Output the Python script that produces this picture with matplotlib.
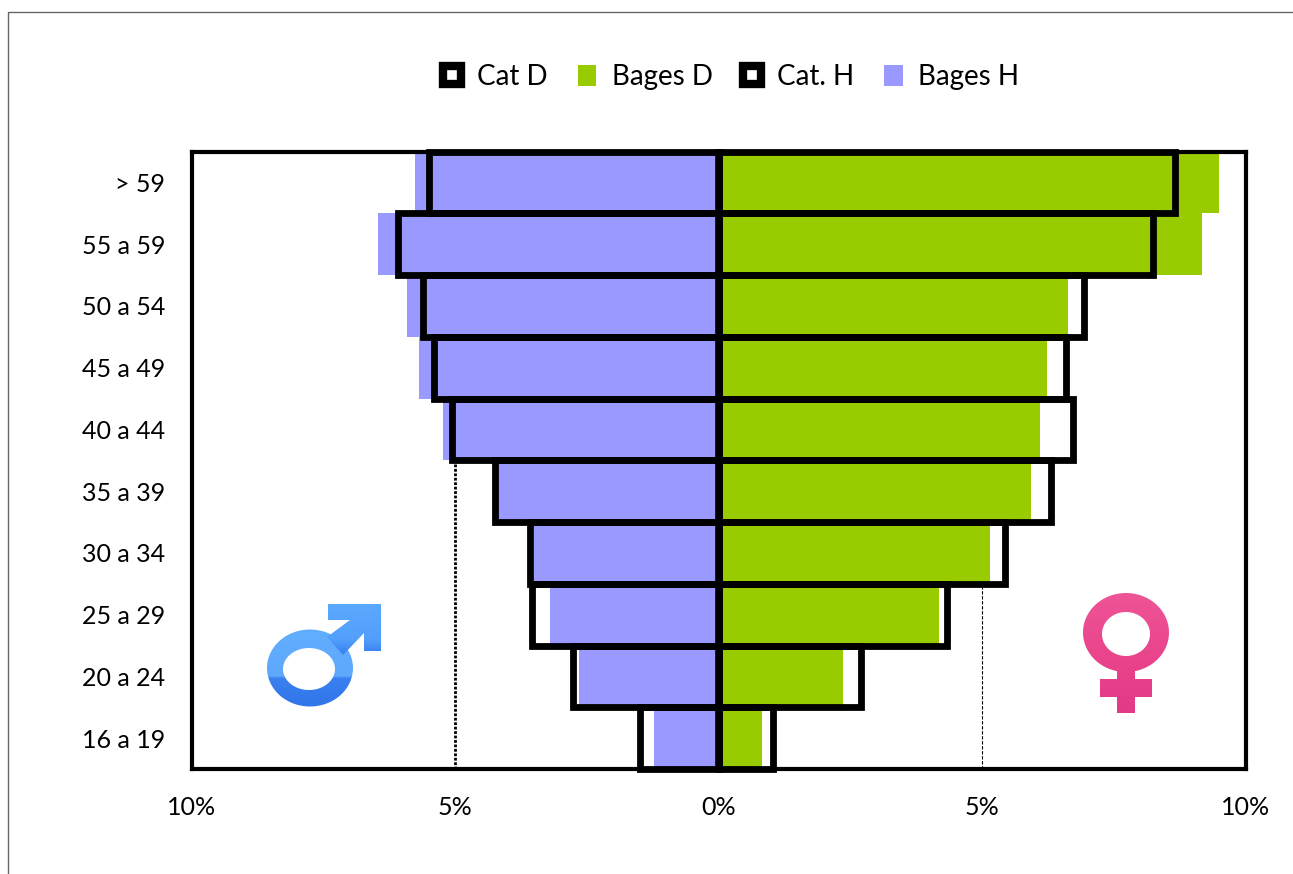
import numpy as np
import matplotlib
matplotlib.use("Agg")
import matplotlib.pyplot as plt
from matplotlib.path import Path
from matplotlib.patches import PathPatch, Rectangle
from matplotlib.lines import Line2D
from matplotlib.patches import Patch
from matplotlib.colors import LinearSegmentedColormap

plt.rcParams['font.family'] = ['Lato', 'DejaVu Sans']

ages = ['> 59', '55 a 59', '50 a 54', '45 a 49', '40 a 44', '35 a 39', '30 a 34', '25 a 29', '20 a 24', '16 a 19']
bages_h = [5.76, 6.46, 5.91, 5.69, 5.23, 4.19, 3.50, 3.20, 2.64, 1.22]
bages_d = [9.49, 9.17, 6.64, 6.23, 6.10, 5.93, 5.15, 4.19, 2.37, 0.82]
cat_h = [5.49, 6.08, 5.60, 5.39, 5.05, 4.25, 3.57, 3.53, 2.76, 1.49]
cat_d = [8.66, 8.24, 6.93, 6.59, 6.72, 6.30, 5.43, 4.34, 2.70, 1.04]
xticks = [-10, -5, 0, 5, 10]
xlabels = ['10%', '5%', '0%', '5%', '10%']

W, H = 1293, 874
fig = plt.figure(figsize=(W / 100, H / 100), dpi=100, facecolor='white')
L, R, T, B = 191.5, 1245.5, 151.5, 769
ax = fig.add_axes([L / W, 1 - B / H, (R - L) / W, (B - T) / H])

y = np.arange(len(ages))
ax.barh(y, -np.array(bages_h), height=1.0, color='#9999FF', zorder=2)
ax.barh(y, bages_d, height=1.0, color='#99CC00', zorder=2)
ax.barh(y, -np.array(cat_h), height=1.0, facecolor='none', edgecolor='black', linewidth=4.9, zorder=6, clip_on=False)
ax.barh(y, cat_d, height=1.0, facecolor='none', edgecolor='black', linewidth=4.9, zorder=6, clip_on=False)
ax.axvline(0, color='black', linewidth=5.5, zorder=7)

ax.set_xlim(-10, 10)
ax.set_ylim(len(ages) - 0.5, -0.5)
ax.set_yticks(y, ages)
ax.set_xticks(xticks, xlabels)
ax.tick_params(axis='both', length=0, labelsize=18, labelcolor='black')
ax.tick_params(axis='y', pad=19)
ax.tick_params(axis='x', pad=19.5)
ax.grid(True, axis='x', zorder=1)
ax.set_axisbelow(True)
gl = ax.get_xgridlines()
for g in gl:
    g.set_visible(False)
gl[1].set(visible=True, color='black', linewidth=2, linestyle=(0, (1, 0.6)))
gl[3].set(visible=True, color='black', linewidth=0.8, linestyle=(0, (3, 1.5)))
for s in ax.spines.values():
    s.set_linewidth(3.0)
    s.set_color('black')
    s.set_zorder(5)

# overlay in pixel coordinates: outer frame and the two symbols
ov = fig.add_axes([0, 0, 1, 1], facecolor='none')
ov.set_xlim(0, W)
ov.set_ylim(H, 0)
ov.axis('off')
ov.add_patch(Rectangle((8, 12), W + 20, H + 20, fill=False, edgecolor='#666666', linewidth=1.0))


def ellipse_verts(cx, cy, rx, ry, n=90):
    t = np.linspace(0, 2 * np.pi, n)
    return np.c_[cx + rx * np.cos(t), cy + ry * np.sin(t)]


def compound(parts):
    verts, codes = [], []
    for p in parts:
        p = np.asarray(p, float)
        verts.extend(p.tolist())
        verts.append(p[0].tolist())
        codes += [Path.MOVETO] + [Path.LINETO] * (len(p) - 1) + [Path.CLOSEPOLY]
    return Path(verts, codes)


def gradient_shape(parts, colors, extent):
    patch = PathPatch(compound(parts), facecolor='none', edgecolor='none', transform=ov.transData)
    ov.add_patch(patch)
    cmap = LinearSegmentedColormap.from_list('g', colors)
    grad = np.linspace(0, 1, 300).reshape(-1, 1)
    im = ov.imshow(grad, cmap=cmap, extent=extent, aspect='auto', zorder=8)
    im.set_clip_path(patch)


# male symbol
ring_outer = ellipse_verts(310, 668, 43, 38.5)
ring_inner = ellipse_verts(309, 669, 26, 21)[::-1]
arrow = [(328, 604), (381, 604), (381, 651), (364, 651), (364, 633),
         (343, 655), (327, 637), (350, 620), (328, 620)]
ring_cols = [(0, '#62B0FF'), (0.68, '#5FA9FC'), (0.70, '#3A80F0'), (1, '#2F74E8')]
gradient_shape([ring_outer, ring_inner], ring_cols, (260, 390, 712, 600))
gradient_shape([arrow], [(0, '#5CA9FF'), (0.35, '#52A0FC'), (0.45, '#3F86F2'), (1, '#3F86F2')], (260, 390, 712, 600))
# female symbol
ring_outer = ellipse_verts(1126, 632.5, 43, 39.5)
ring_inner = ellipse_verts(1126, 634, 24, 22)[::-1]
cross = [(1117, 668), (1135, 668), (1135, 679), (1152, 679), (1152, 697), (1135, 697),
         (1135, 713), (1117, 713), (1117, 697), (1100, 697), (1100, 679), (1117, 679)]
fem_cols = ['#EE5596', '#EB4A90', '#E8408A', '#E23A84']
gradient_shape([ring_outer, ring_inner], fem_cols, (1080, 1170, 716, 592))
gradient_shape([cross], fem_cols, (1080, 1170, 716, 592))
ov.set_xlim(0, W)
ov.set_ylim(H, 0)

# legend
marker = dict(marker='s', linestyle='none', markersize=13, markerfacecolor='white',
              markeredgecolor='black', markeredgewidth=6)
handles = [Line2D([], [], **marker),
           Patch(facecolor='#99CC00'),
           Line2D([], [], **marker),
           Patch(facecolor='#9999FF')]
leg = fig.legend(handles, ['Cat D', 'Bages D', 'Cat. H', 'Bages H'], ncol=4, frameon=False,
                 loc='center', bbox_to_anchor=(731 / W, 1 - 77 / H), fontsize=20,
                 handlelength=0.68, handleheight=0.8, handletextpad=0.55, columnspacing=1.08)

fig.savefig('out.png', dpi=100, facecolor='white')
